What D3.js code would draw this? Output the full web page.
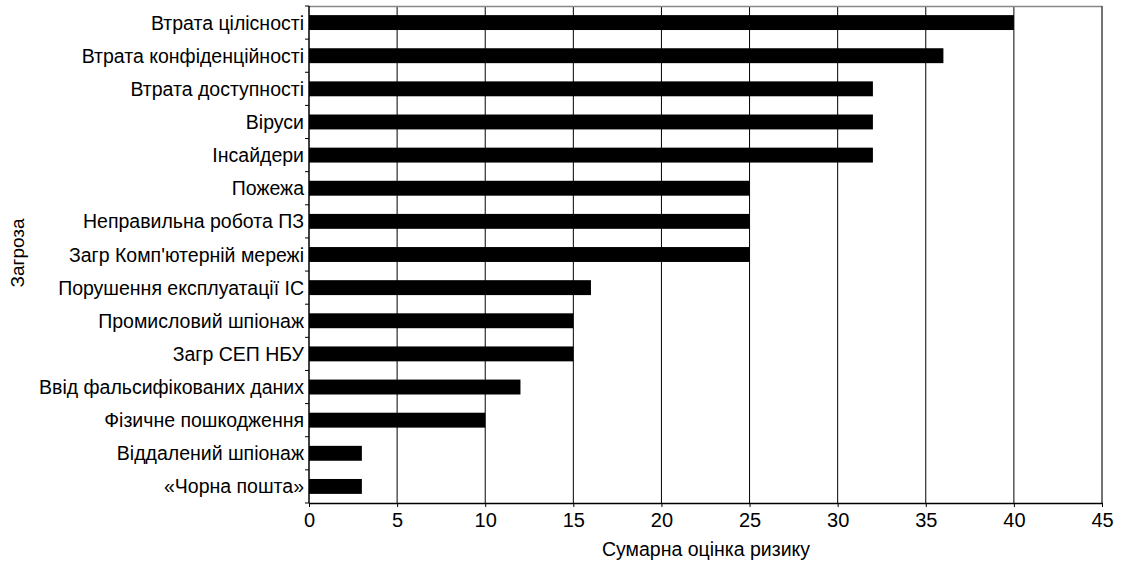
<!DOCTYPE html>
<html><head><meta charset="utf-8">
<script src="https://cdn.jsdelivr.net/npm/d3@7"></script>
<style>body{margin:0;background:#fff}</style>
</head><body>
<script>
const categories = ["Втрата цілісності","Втрата конфіденційності","Втрата доступності","Віруси","Інсайдери","Пожежа","Неправильна робота ПЗ","Загр Комп'ютерній мережі","Порушення експлуатації ІС","Промисловий шпіонаж","Загр СЕП НБУ","Ввід фальсифікованих даних","Фізичне пошкодження","Віддалений шпіонаж","«Чорна пошта»"];
const values = [40,36,32,32,32,25,25,25,16,15,15,12,10,3,3];
const xTicks = [0,5,10,15,20,25,30,35,40,45];

const W=1122,H=562, L=309, R=1102, T=6, B=503;
const svg=d3.select("body").append("svg").attr("width",W).attr("height",H).style("font-family","'Liberation Sans', Arial, sans-serif");
const x=d3.scaleLinear().domain([0,45]).range([L,R]);
const y=d3.scaleBand().domain(categories).range([T,B]).paddingInner(0.55).paddingOuter(0.275);

// grid
svg.append("g").selectAll("line").data(xTicks.filter(d=>d>0&&d<45)).join("line")
 .attr("x1",d=>x(d)).attr("x2",d=>x(d)).attr("y1",T).attr("y2",B).attr("stroke","#000").attr("stroke-width",1);
// border
svg.append("line").attr("x1",L).attr("x2",R).attr("y1",T+0.5).attr("y2",T+0.5).attr("stroke","#888").attr("stroke-width",1.5);
svg.append("line").attr("x1",R).attr("x2",R).attr("y1",T).attr("y2",B).attr("stroke","#444").attr("stroke-width",1.5);

// bars
svg.append("g").selectAll("rect").data(values).join("rect")
 .attr("x",x(0)).attr("y",(d,i)=>y(categories[i])).attr("width",d=>x(d)-x(0)).attr("height",y.bandwidth()).attr("fill","#000");

// x axis
const xa=svg.append("g").attr("transform",`translate(0,${B})`).call(d3.axisBottom(x).tickValues(xTicks).tickSize(4).tickSizeOuter(0));
xa.select(".domain").attr("stroke","#000").attr("stroke-width",1.5);
xa.selectAll(".tick line").attr("stroke","#000");
xa.selectAll("text").attr("font-size",20).attr("fill","#000").attr("dy",null).attr("y",24);

// y axis
svg.append("line").attr("x1",L).attr("x2",L).attr("y1",T).attr("y2",B).attr("stroke","#000").attr("stroke-width",1.5);
svg.append("g").selectAll("line").data(d3.range(categories.length+1)).join("line")
 .attr("x1",L-4).attr("x2",L).attr("y1",i=>T+i*(B-T)/categories.length).attr("y2",i=>T+i*(B-T)/categories.length).attr("stroke","#000");
svg.append("g").selectAll("text").data(categories).join("text")
 .attr("x",L-5).attr("y",d=>y(d)+y.bandwidth()/2).attr("dy","0.36em").attr("text-anchor","end")
 .attr("font-size",19.5).attr("fill","#000").text(d=>d);

// titles
svg.append("text").attr("x",706).attr("y",556).attr("text-anchor","middle").attr("font-size",19.5).text("Сумарна оцінка ризику");
svg.append("text").attr("transform",`translate(24,253) rotate(-90)`).attr("text-anchor","middle").attr("font-size",19).text("Загроза");
</script>
</body></html>
